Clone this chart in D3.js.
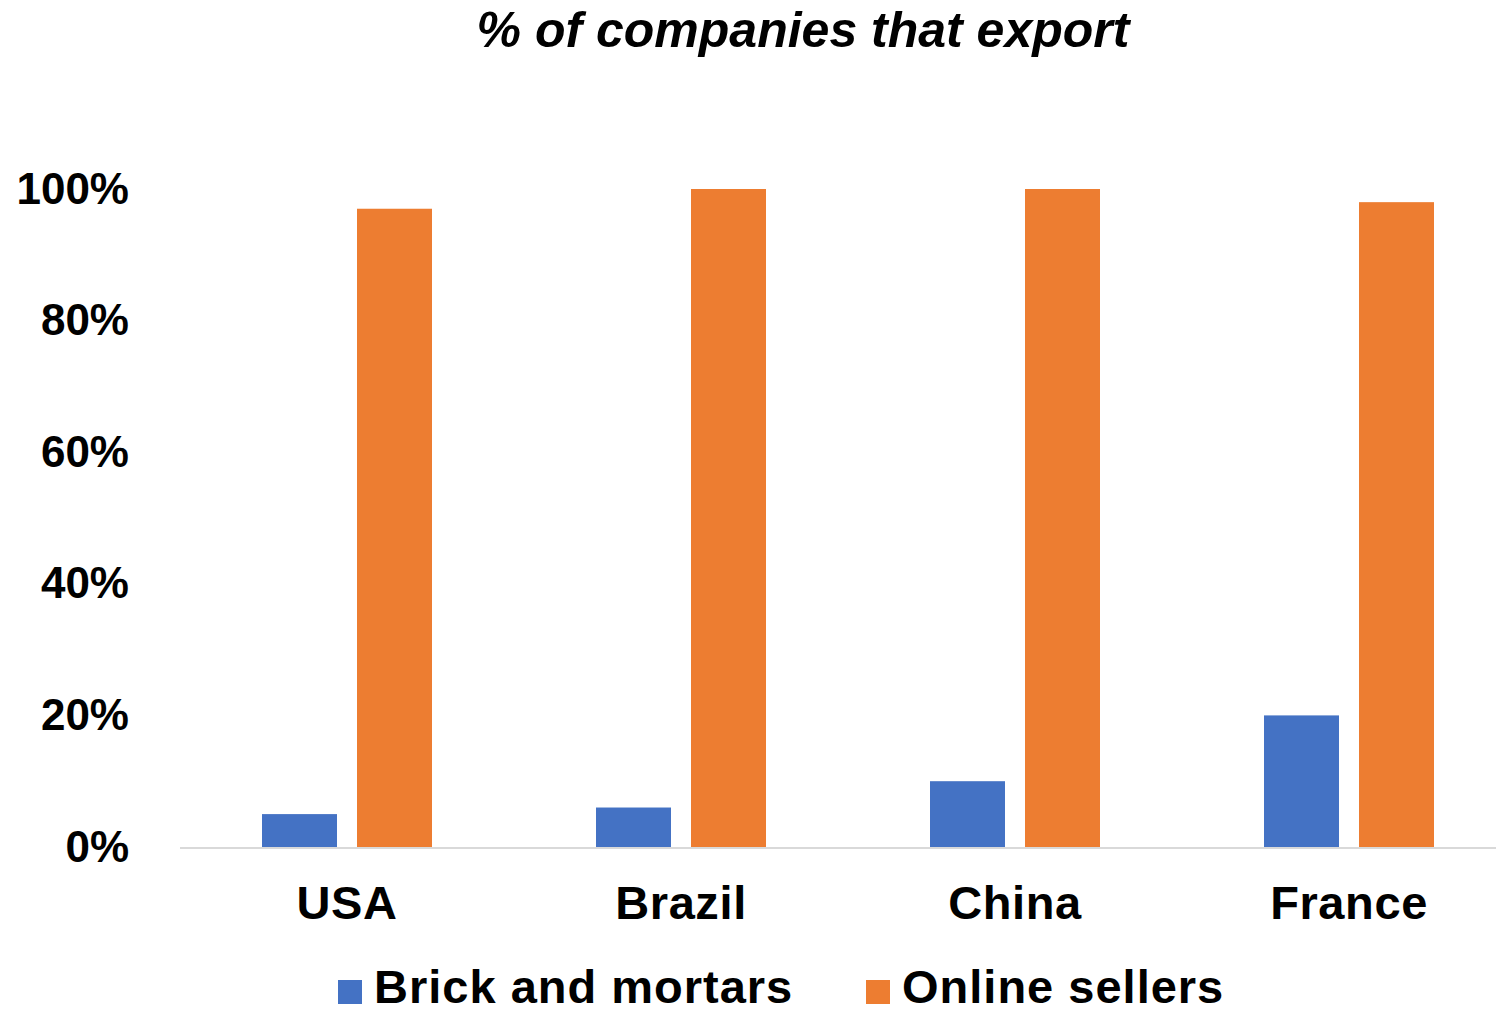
<!DOCTYPE html>
<html>
<head>
<meta charset="utf-8">
<script src="https://cdn.jsdelivr.net/npm/d3@7"></script>
<style>
  html, body { margin: 0; padding: 0; background: #fff; }
  svg { display: block; font-family: "Liberation Sans", Arial, sans-serif; }
</style>
</head>
<body>
<svg id="chart" width="1496" height="1014"></svg>
<script>
// Share of companies that export, by country and seller type (%)
const countries = ["USA", "Brazil", "China", "France"];
const seriesNames = ["Brick and mortars", "Online sellers"];
const brickAndMortars = [5, 6, 10, 20];
const onlineSellers = [97, 100, 100, 98];
const yTicks = [0, 20, 40, 60, 80, 100];
const seriesColors = ["#4472C4", "#ED7D31"];

const rows = countries.map((c, i) => ({
  country: c,
  values: [brickAndMortars[i], onlineSellers[i]]
}));

const svg = d3.select("#chart");
const W = 1496, H = 1014;

const x = d3.scaleBand().domain(countries).range([180, 1516]).paddingInner(0).paddingOuter(0);
const y = d3.scaleLinear().domain([0, 100]).range([847, 189]);

// Each category holds two 75px bars separated by a 20px gap, centered on its band
const barW = 75, gap = 20;

// Title
svg.append("text")
  .attr("x", 803).attr("y", 47)
  .attr("text-anchor", "middle")
  .style("font-size", "50px").style("font-weight", "bold").style("font-style", "italic")
  .text("% of companies that export");

// Y axis labels (no axis line, no ticks)
const yAxis = d3.axisLeft(y).tickValues(yTicks).tickFormat(d => d + "%").tickSize(0).tickPadding(0);
const yg = svg.append("g").attr("transform", "translate(129,0)").call(yAxis);
yg.select(".domain").remove();
yg.selectAll("text")
  .attr("fill", "#000")
  .style("font-size", "44px").style("font-weight", "bold")
  .style("font-family", "'Liberation Sans', Arial, sans-serif");

// Bars
const groups = svg.append("g").selectAll("g").data(rows).join("g")
  .attr("transform", d => `translate(${x(d.country) + x.bandwidth() / 2 - (barW * 2 + gap) / 2},0)`);
groups.selectAll("rect").data(d => d.values).join("rect")
  .attr("x", (v, i) => i * (barW + gap))
  .attr("width", barW)
  .attr("y", v => y(v))
  .attr("height", v => y(0) - y(v))
  .attr("fill", (v, i) => seriesColors[i]);

// Baseline
svg.append("line")
  .attr("x1", 180).attr("x2", W)
  .attr("y1", y(0) + 1).attr("y2", y(0) + 1)
  .attr("stroke", "#d9d9d9").attr("stroke-width", 2);

// X axis labels
const xAxis = d3.axisBottom(x).tickSize(0).tickPadding(0);
const xg = svg.append("g").attr("transform", "translate(0,886)").call(xAxis);
xg.select(".domain").remove();
xg.selectAll("text")
  .attr("fill", "#000")
  .attr("dy", "0.71em")
  .style("font-size", "47px").style("font-weight", "bold")
  .style("letter-spacing", "0.6px")
  .style("font-family", "'Liberation Sans', Arial, sans-serif");

// Legend
const legendItems = [
  { name: seriesNames[0], color: seriesColors[0], sx: 338, tx: 374 },
  { name: seriesNames[1], color: seriesColors[1], sx: 866, tx: 902 }
];
const lg = svg.append("g");
legendItems.forEach(it => {
  lg.append("rect").attr("x", it.sx).attr("y", 980).attr("width", 24).attr("height", 24).attr("fill", it.color);
  lg.append("text").attr("x", it.tx).attr("y", 1003)
    .style("font-size", "47px").style("font-weight", "bold")
    .style("letter-spacing", "1px")
    .text(it.name);
});
</script>
</body>
</html>
